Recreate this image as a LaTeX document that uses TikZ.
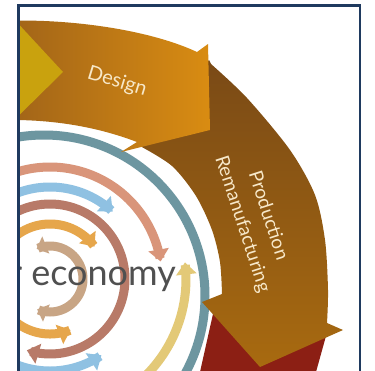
\documentclass[tikz,border=0pt]{standalone}
\usepackage{fontspec}
\setmainfont{Lato}
\usetikzlibrary{arrows.meta}

\definecolor{frameblue}{HTML}{1F3A5F}
\definecolor{designL}{HTML}{9E6219}
\definecolor{designR}{HTML}{D98C12}
\definecolor{rawgold}{HTML}{C9A20E}
\definecolor{prodT}{HTML}{7A4A16}
\definecolor{prodB}{HTML}{A86A10}
\definecolor{distred}{HTML}{8C1F14}
\definecolor{ringgray}{HTML}{6D96A0}
\definecolor{salmon}{HTML}{D9957A}
\definecolor{skyblue}{HTML}{8FC1E2}
\definecolor{mauve}{HTML}{B87A68}
\definecolor{amber}{HTML}{E6A64B}
\definecolor{tan}{HTML}{C8A585}
\definecolor{khaki}{HTML}{E3C977}
\definecolor{cream}{HTML}{F7E8C9}
\definecolor{econgray}{HTML}{505050}

\tikzset{
  band/.style={line width=9pt},
  tip/.style={-{Triangle[length=12pt,width=20pt]}},
  rtip/.style={{Triangle[length=12pt,width=20pt]}-},
  lbl/.style={text=cream, inner sep=0pt},
}

% swirl arc around the logo centre (50,279)
\newcommand\swirlarc[4]{% options, radius, from, to
  \draw[band,#1] plot[domain=#3:#4, samples=80, variable=\t]
    ({50+#2*cos(\t)},{279+#2*sin(\t)});}

\begin{document}
\begin{tikzpicture}[x=1pt,y=-1pt]
\useasboundingbox (0,0) rectangle (375,370);
\fill[white] (0,0) rectangle (375,370);

\begin{scope}
\clip (19.5,6.5) rectangle (359,370);

% outer grey-blue ring
\draw[ringgray, line width=9pt] (44,296) circle[radius=161];

% inner swirl of arrows
\swirlarc{tan, {Triangle[length=10pt,width=18pt]}-{Triangle[length=10pt,width=18pt]}}{33}{-114}{113}
\swirlarc{amber, tip}{55}{-140}{-36}
\swirlarc{amber, rtip}{55}{68}{140}
\swirlarc{mauve, tip}{75}{-140}{108}
\swirlarc{skyblue, tip}{92}{-140}{-47}
\swirlarc{skyblue, rtip}{92}{56}{140}
\swirlarc{salmon, tip}{112}{-140}{-9}
\swirlarc{khaki, rtip}{136}{-7}{80}

% distribution arrow (red)
\fill[distred] (215,305) -- (200,372) -- (316,372) -- (326,336) -- (260,330) -- cycle;

% production / remanufacturing arrow
\shade[top color=prodT, bottom color=prodB]
  (209,60) -- plot[smooth] coordinates {(211,64) (247,98) (290,150) (315,195) (325,240) (328,290) (327,323)}
  -- (343,330) -- (260,367) -- (202,302) -- (222,294)
  -- plot[smooth] coordinates {(222,294) (220,262) (212,230) (196,196) (172,166) (140,146)}
  -- (135,148) -- cycle;

% design arrow
\shade[left color=designL, right color=designR]
  (0,21) .. controls (70,18) and (150,30) .. (197,52) -- (208,44) -- (210,130)
  -- (121,152) -- (137,142) .. controls (95,126) and (50,119) .. (0,120) -- cycle;

% head of the raw materials arrow
\fill[rawgold] (0,4) -- (63,72) -- (0,134) -- cycle;

% labels
\node[lbl, rotate=-17, font=\fontsize{20}{24}\selectfont] (design) at (117,82) {Design};
\node[lbl, rotate=-72, align=center, font=\fontsize{19}{27}\selectfont] (prod) at (255,220)
  {Production\\Remanufacturing};
\node[anchor=base east, text=econgray, inner sep=0pt, font=\fontsize{36}{40}\selectfont] (ce)
  at (176,285) {Circular economy};
\end{scope}

% frame
\draw[frameblue, line width=2.5pt] (18.5,372) -- (18.5,5.5) -- (360,5.5) -- (360,372);
\end{tikzpicture}
\end{document}
